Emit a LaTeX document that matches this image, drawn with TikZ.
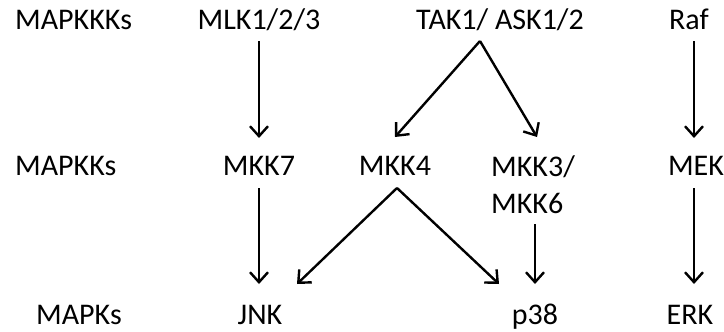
\documentclass[tikz,border=0pt]{standalone}
\usepackage{fontspec}
\setmainfont{Carlito}
\usetikzlibrary{arrows.meta}
\begin{document}
\begin{tikzpicture}[x=1pt,y=-1pt,
  lbl/.style={inner sep=0pt, anchor=base, font=\fontsize{30}{37}\selectfont},
  arr/.style={line width=2.4pt, -{Straight Barb[length=10pt,width=18pt]}}]
\useasboundingbox (0,0) rectangle (724,332);

% tier labels
\node[lbl,anchor=base west] (kkk) at (15,29)  {MAPKKKs};
\node[lbl,anchor=base west] (kk)  at (15,175) {MAPKKs};
\node[lbl,anchor=base west] (k)   at (36,324) {MAPKs};

% MAPKKKs
\node[lbl] (mlk) at (259,29) {MLK1/2/3};
\node[lbl] (tak) at (500,29) {TAK1/ ASK1/2};
\node[lbl] (raf) at (689,29) {Raf};

% MAPKKs (the two-line label sits on the baseline of its last line)
\node[lbl] (mkk7) at (259,175) {MKK7};
\node[lbl] (mkk4) at (395,175) {MKK4};
\node[lbl,align=left] (mkk36) at (533,213) {MKK3/\\MKK6};
\node[lbl] (mek)  at (696,175) {MEK};

% MAPKs
\node[lbl] (jnk) at (260,324) {JNK};
\node[lbl] (p38) at (535,324) {p38};
\node[lbl] (erk) at (690,324) {ERK};

% MAPKKK -> MAPKK
\draw[arr] ([yshift=-12pt]mlk.base) -- ([yshift=37pt]mkk7.base);
\draw[arr] ([xshift=-20pt,yshift=-12pt]tak.base) -- ([yshift=38pt]mkk4.base);
\draw[arr] ([xshift=-20pt,yshift=-12pt]tak.base) -- ([xshift=4pt,yshift=76pt]mkk36.base);
\draw[arr] ([xshift=5pt,yshift=-12pt]raf.base) -- ([xshift=-2pt,yshift=37pt]mek.base);

% MAPKK -> MAPK
\draw[arr] ([yshift=-13pt]mkk7.base) -- ([xshift=-1pt,yshift=40pt]jnk.base);
\draw[arr] ([xshift=2pt,yshift=-13pt]mkk4.base) -- ([xshift=37pt,yshift=40pt]jnk.base);
\draw[arr] ([xshift=2pt,yshift=-13pt]mkk4.base) -- ([xshift=-36pt,yshift=40pt]p38.base);
\draw[arr] ([xshift=2pt,yshift=-11pt]mkk36.base) -- ([yshift=40pt]p38.base);
\draw[arr] ([xshift=-2pt,yshift=-13pt]mek.base) -- ([xshift=4pt,yshift=40pt]erk.base);
\end{tikzpicture}
\end{document}
